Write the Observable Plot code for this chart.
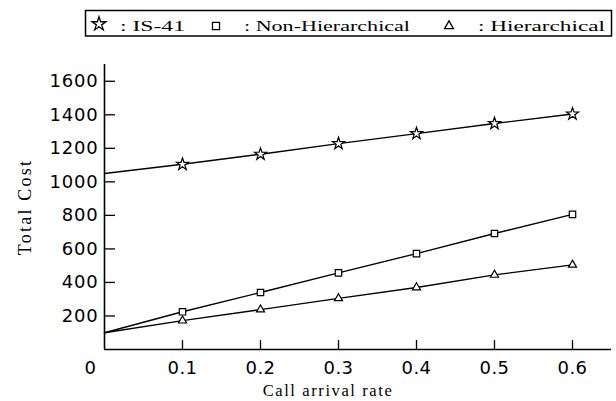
<!DOCTYPE html>
<html>
<head>
<meta charset="utf-8">
<script src="https://cdn.jsdelivr.net/npm/d3@7"></script>
<script src="https://cdn.jsdelivr.net/npm/@observablehq/plot@0.6"></script>
<style>
  html, body { margin: 0; padding: 0; background: #fff; }
  #wrap { width: 616px; height: 401px; overflow: hidden; }
  #legend { display: block; }
  g[aria-label="y-axis tick label"] text { letter-spacing: 0.8px; }
  g[aria-label="x-axis tick label"] text { letter-spacing: 0.5px; }
  g[aria-label="y-axis label"] text {
    font-family: "Liberation Serif", "Times New Roman", serif;
    font-size: 18px;
    letter-spacing: 2.2px;
    fill: black;
  }
  g[aria-label="x-axis label"] text {
    font-family: "Liberation Serif", "Times New Roman", serif;
    font-size: 16.5px;
    letter-spacing: 1.6px;
    fill: black;
  }
</style>
</head>
<body>
<div id="wrap"></div>
<script>
// ---- data ----
const rates = [0.1, 0.2, 0.3, 0.4, 0.5, 0.6];
const startRate = 0;
const is41 = [1105, 1165, 1228, 1288, 1348, 1405];
const is41Start = 1050;
const nonHier = [225, 340, 457, 572, 692, 806];
const nonHierStart = 100;
const hier = [172, 238, 305, 370, 445, 505];
const hierStart = 100;
const seriesNames = ["IS-41", "Non-Hierarchical", "Hierarchical"];
const seriesSymbols = ["star", "square", "triangle"];
const xTicks = [0.1, 0.2, 0.3, 0.4, 0.5, 0.6];
const xZeroTick = [0];
const yTicks = [200, 400, 600, 800, 1000, 1200, 1400, 1600];
const xLabel = "Call arrival rate";
const yLabel = "Total Cost";

// build tables
const seriesValues = [is41, nonHier, hier];
const seriesStarts = [is41Start, nonHierStart, hierStart];
const points = [];
const lines = [];
seriesNames.forEach((name, i) => {
  lines.push({series: name, rate: startRate, cost: seriesStarts[i]});
  rates.forEach((r, j) => {
    points.push({series: name, rate: r, cost: seriesValues[i][j]});
    lines.push({series: name, rate: r, cost: seriesValues[i][j]});
  });
});

// ---- legend (above the chart) ----
const legendH = 46;
const lg = d3.create("svg").attr("id", "legend").attr("width", 616).attr("height", legendH);
lg.append("rect").attr("x", 85.5).attr("y", 10.5).attr("width", 526).attr("height", 25.5)
  .attr("fill", "white").attr("stroke", "black").attr("stroke-width", 1.5);
const legendItems = [
  {sym: d3.symbolStar, size: 60, cx: 99, cy: 24, tx: 120, tw: 65},
  {sym: d3.symbolSquare, size: 50, cx: 216, cy: 26, tx: 244, tw: 166},
  {sym: d3.symbolTriangle, size: 34, cx: 449, cy: 26, tx: 478, tw: 127}
];
legendItems.forEach((it, i) => {
  lg.append("path").attr("d", d3.symbol(it.sym, it.size)())
    .attr("transform", `translate(${it.cx},${it.cy})`)
    .attr("fill", "white").attr("stroke", "black").attr("stroke-width", 1.3);
  lg.append("text").attr("x", it.tx).attr("y", 30.5)
    .attr("font-family", "Liberation Serif, Times New Roman, serif")
    .attr("font-size", 15.5)
    .attr("textLength", it.tw).attr("lengthAdjust", "spacingAndGlyphs")
    .text(": " + seriesNames[i]);
});
document.getElementById("wrap").appendChild(lg.node());

// ---- chart ----
const chart = Plot.plot({
  width: 616,
  height: 401 - legendH,
  marginTop: 18,
  marginBottom: 52,
  marginLeft: 104,
  marginRight: 5,
  style: {fontFamily: "DejaVu Sans, sans-serif", fontSize: "18px", color: "black", background: "white", overflow: "visible"},
  x: {domain: [0, 0.65]},
  y: {domain: [0, 1700]},
  symbol: {domain: seriesNames, range: seriesSymbols},
  marks: [
    // inward ticks
    Plot.axisX({ticks: xTicks, tickSize: 9, dy: -9, tickFormat: () => "", label: null, strokeWidth: 1.3}),
    Plot.axisY({ticks: yTicks, tickSize: 11, dx: 11, tickFormat: () => "", label: null, strokeWidth: 1.3}),
    // tick labels
    Plot.axisX({ticks: xTicks, tickSize: 0, tickPadding: 12, tickFormat: d3.format(".1f"),
      label: xLabel, labelAnchor: "center", labelArrow: "none", labelOffset: 46}),
    Plot.axisX({ticks: xZeroTick, tickSize: 0, tickPadding: 12, tickFormat: d => String(d), label: null, dx: -14}),
    Plot.axisY({ticks: yTicks, tickSize: 0, tickPadding: 6, tickFormat: d => String(d),
      label: yLabel, labelAnchor: "center", labelArrow: "none", labelOffset: 86}),
    // axis lines
    Plot.ruleX([0], {stroke: "black", strokeWidth: 1.6}),
    Plot.ruleY([0], {stroke: "black", strokeWidth: 1.6}),
    // series
    Plot.line(lines, {x: "rate", y: "cost", z: "series", stroke: "black", strokeWidth: 1.4}),
    Plot.dot(points, {x: "rate", y: "cost", symbol: "series",
      r: d => d.series === "IS-41" ? 6.4 : d.series === "Non-Hierarchical" ? 5.8 : 4.0,
      fill: "white", stroke: "black", strokeWidth: 1.2})
  ]
});
chart.style.display = "block";
document.getElementById("wrap").appendChild(chart);
// shift x-axis label slightly left as in the reference
chart.querySelectorAll('g[aria-label="x-axis label"] text').forEach(t => t.setAttribute("dx", "-30"));
</script>
</body>
</html>
